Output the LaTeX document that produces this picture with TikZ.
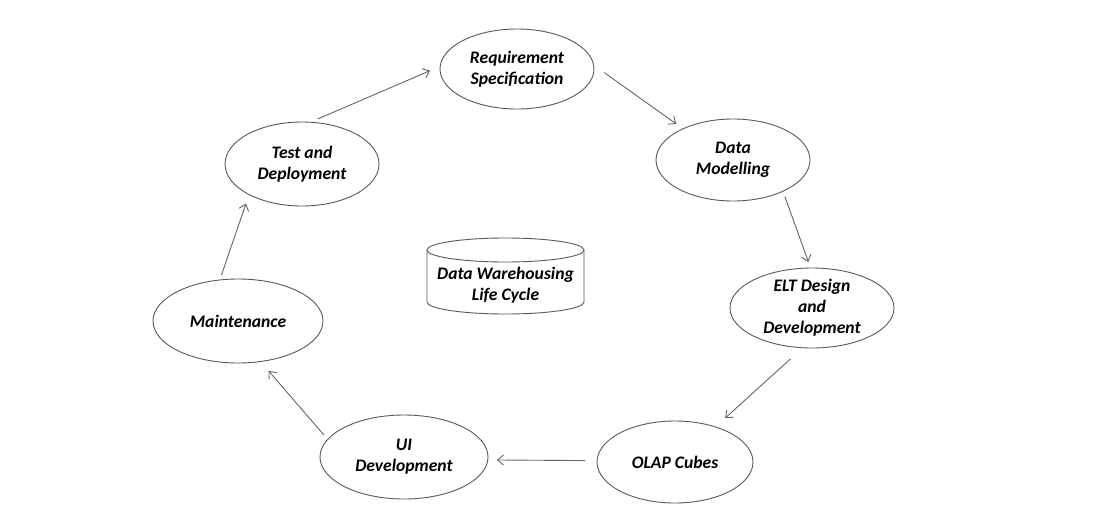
\documentclass[tikz,border=0pt]{standalone}
\usepackage{fontspec}
\setmainfont{Carlito}
\usetikzlibrary{shapes.geometric,arrows.meta}
\begin{document}
\begin{tikzpicture}[x=1pt,y=-1pt,
  lbl/.style={align=center,inner sep=0pt,font=\fontsize{17.6}{21}\selectfont\bfseries\itshape,text=black},
  stage/.style={ellipse,draw=black!65,line width=0.9pt,inner sep=0pt,outer sep=0pt,fill=white},
  arr/.style={draw=black!60,line width=0.9pt,-{Straight Barb[length=6pt,width=10pt]}},
  shapeline/.style={draw=black!65,line width=0.9pt}]
\useasboundingbox[fill=white] (0,0) rectangle (1100,525);
% stages
\node[stage,minimum width=154pt,minimum height=80pt,label={[lbl]center:{Requirement\\Specification}}] (req) at (517,69) {};
\node[stage,minimum width=154pt,minimum height=82pt,label={[lbl]center:{Data\\Modelling}}] (data) at (733,160) {};
\node[stage,minimum width=164pt,minimum height=80pt,label={[lbl]center:{ELT Design\\and\\Development}}] (elt) at (812,308) {};
\node[stage,minimum width=156pt,minimum height=82pt,label={[lbl]center:{OLAP Cubes}}] (olap) at (675,462) {};
\node[stage,minimum width=168pt,minimum height=84pt,label={[lbl]center:{UI\\Development}}] (ui) at (404,457) {};
\node[stage,minimum width=170pt,minimum height=84pt,label={[lbl]center:{Maintenance}}] (maint) at (238,321) {};
\node[stage,minimum width=154pt,minimum height=84pt,label={[lbl]center:{Test and\\Deployment}}] (test) at (302,164) {};
% cylinder
\draw[shapeline] (427,250) -- (427,302) arc[start angle=180,end angle=0,x radius=78.5,y radius=12] -- (584,250);
\draw[shapeline] (505.5,250) ellipse [x radius=78.5, y radius=12];
\node[lbl] (dwlc) at (505.5,285) {Data Warehousing\\Life Cycle};
% arrows
\draw[arr, shorten <=8.2pt, shorten >=11pt] (test.79.9) -- (req.178.3);
\draw[arr, shorten <=13pt, shorten >=8.3pt] (req.3.4) -- (data.148.3);
\draw[arr, shorten <=5.7pt, shorten >=6.4pt] (data.-32.9) -- (elt.92.5);
\draw[arr, shorten <=16.7pt, shorten >=13.2pt] (elt.-103.6) -- (olap.41.1);
\draw[arr, shorten <=12pt, shorten >=9pt] (olap.179) -- (ui.-2.7);
\draw[arr, shorten <=5.8pt, shorten >=12.3pt] (ui.167.9) -- (maint.-61.5);
\draw[arr, shorten <=5.3pt, shorten >=9.5pt] (maint.114.5) -- (test.-150.9);
\end{tikzpicture}
\end{document}
